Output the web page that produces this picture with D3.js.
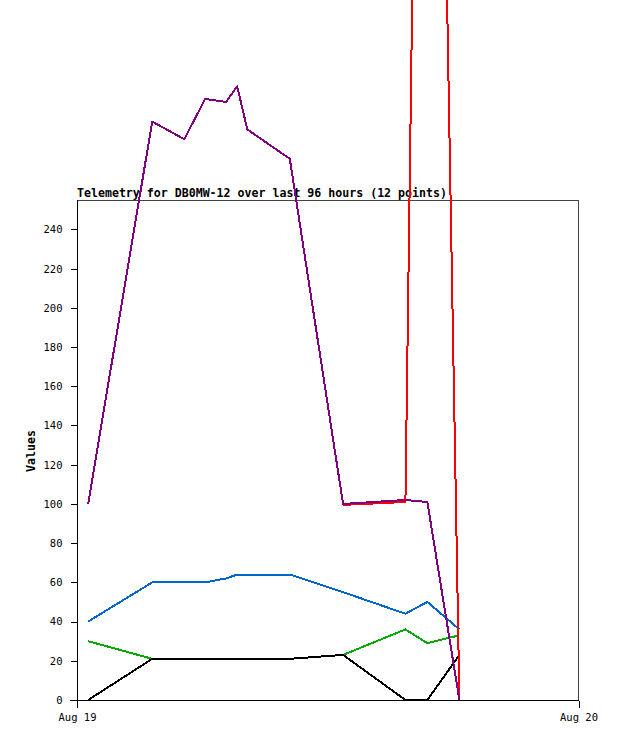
<!DOCTYPE html>
<meta charset="utf-8" />
<script src="https://d3js.org/d3.v7.min.js"></script>
<style>
  body { margin: 0; background: #fff; }
  text { font-family: "DejaVu Sans Mono", monospace; }
</style>
<body>
<div id="chart"></div>
</body>
<script>
  // telemetry samples, times on Aug 19
  const times = ["00:32", "03:36", "05:08", "06:08", "07:08", "07:40",
                 "08:09", "10:11", "12:44", "15:43", "16:46", "18:18"];
  const purple = [100, 295, 286, 306.5, 305, 313, 291, 276, 100, 102, 101, 0];
  const red    = [null, null, null, null, null, null, null, null, 99.5, 101, 930, 0];
  const blue   = [40, 60, 60, 60, 62, 64, 64, 64, 55, 44, 50, 36];
  const green  = [30, 21, 21, 21, 21, 21, 21, 21, 23, 36, 29, 33];
  const black  = [0, 21, 21, 21, 21, 21, 21, 21, 23, 0, 0, 23];
  const yTicks = [0, 20, 40, 60, 80, 100, 120, 140, 160, 180, 200, 220, 240];
  const xTickLabels = ["Aug 19", "Aug 20"];

  const parse = d3.timeParse("%Y-%m-%d %H:%M");
  const dates = times.map(t => parse("2023-08-19 " + t));

  const W = 618, H = 741;
  const margin = {top: 200, right: 40, bottom: 41, left: 77};

  const svg = d3.select("#chart").append("svg")
      .attr("width", W)
      .attr("height", H)
      .style("display", "block");

  const x = d3.scaleTime()
      .domain([parse("2023-08-19 00:00"), parse("2023-08-20 00:00")])
      .range([margin.left, W - margin.right + 0.5]);
  const y = d3.scaleLinear()
      .domain([0, 255])
      .range([H - margin.bottom, margin.top]);

  // frame: grey top/right
  svg.append("path")
      .attr("d", `M${x.range()[0]},${y(255) + 0.5}H${x.range()[1]}V${y(0)}`)
      .attr("fill", "none")
      .attr("stroke", "#444")
      .attr("stroke-width", 1)
      .attr("shape-rendering", "crispEdges");

  // y axis
  const yAxis = svg.append("g")
      .attr("transform", `translate(${margin.left + 0.5},0)`)
      .attr("shape-rendering", "crispEdges")
      .call(d3.axisLeft(y).tickValues(yTicks).tickSize(7).tickPadding(8).tickSizeOuter(0));
  yAxis.select(".domain").attr("d", `M0,${y(255)}V${y(0)}`);
  yAxis.selectAll("text").style("font-size", "10.5px").attr("fill", "#000");

  // x axis
  const xAxis = svg.append("g")
      .attr("transform", `translate(0,${y(0) + 0.5})`)
      .attr("shape-rendering", "crispEdges")
      .call(d3.axisBottom(x)
        .tickValues(x.domain())
        .tickFormat((d, i) => xTickLabels[i])
        .tickSize(7).tickPadding(6).tickSizeOuter(0));
  xAxis.select(".domain").attr("d", `M${margin.left - 7},0H${x.range()[1]}`);
  xAxis.selectAll("text").style("font-size", "10.5px").attr("fill", "#000");

  // title
  svg.append("text")
      .attr("x", margin.left)
      .attr("y", 197)
      .style("font-size", "11.6px")
      .style("font-weight", "bold")
      .text("Telemetry for DB0MW-12 over last 96 hours (12 points)");

  // y label
  svg.append("text")
      .attr("transform", "translate(35,451) rotate(-90)")
      .attr("text-anchor", "middle")
      .style("font-size", "11.6px")
      .style("font-weight", "bold")
      .text("Values");

  // lines, not clipped to plot area
  const line = d3.line()
      .defined(d => d[1] !== null)
      .x(d => x(d[0]))
      .y(d => y(d[1]));

  const series = [
    {vals: green, color: "#00aa00"},
    {vals: black, color: "#000000"},
    {vals: blue, color: "#0066cc"},
    {vals: red, color: "#ff0000"},
    {vals: purple, color: "#800080"}
  ];

  svg.append("g").selectAll("path")
    .data(series)
    .enter()
    .append("path")
      .attr("d", s => line(dates.map((d, i) => [d, s.vals[i]])))
      .attr("fill", "none")
      .attr("stroke", s => s.color)
      .attr("stroke-width", 2)
      .attr("stroke-linejoin", "round")
      .attr("shape-rendering", "crispEdges");
</script>
